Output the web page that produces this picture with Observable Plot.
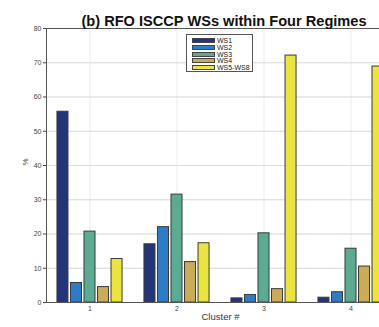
<!DOCTYPE html>
<html>
<head>
<meta charset="utf-8">
<script src="https://cdn.jsdelivr.net/npm/d3@7"></script>
<script src="https://cdn.jsdelivr.net/npm/@observablehq/plot@0.6"></script>
<style>
  html, body { margin: 0; padding: 0; background: #fff; overflow: hidden; }
  #wrap { position: relative; width: 379px; height: 327px; overflow: hidden; }
  #wrap svg { max-width: none !important; }
  #legend { position: absolute; left: 186px; top: 34px; width: 67px; height: 38px; border: 1px solid #555; background: #fff;
    font-family: "Liberation Sans", Arial, sans-serif; font-size: 7px; line-height: 7px; color: #222; padding: 2.5px 0 0 0; box-sizing: border-box; }
  #legend .row { display: flex; align-items: center; height: 6.7px; }
  #legend .sw { display: inline-block; width: 23px; height: 5px; margin-left: 5px; margin-right: 2px; border: 1px solid #444; box-sizing: border-box; }
</style>
</head>
<body>
<div id="wrap"></div>
<script>
const clusters = [1, 2, 3, 4];
const series = ["WS1", "WS2", "WS3", "WS4", "WS5-WS8"];
const ws1 = [55.7, 17.0, 1.2, 1.4];
const ws2 = [5.7, 22.0, 2.2, 3.0];
const ws3 = [20.7, 31.5, 20.2, 15.7];
const ws4 = [4.5, 11.8, 3.9, 10.5];
const ws58 = [12.7, 17.3, 72.1, 68.9];
const colors = ["#243479", "#2e7cc8", "#5bab93", "#caab58", "#ebe33f"];
const yTicks = [0, 10, 20, 30, 40, 50, 60, 70, 80];
const title = "(b) RFO ISCCP WSs within Four Regimes";

const values = [ws1, ws2, ws3, ws4, ws58];
const data = [];
clusters.forEach((c, i) => series.forEach((s, j) => data.push({cluster: c, series: s, value: values[j][i]})));

const chart = Plot.plot({
  width: 394,
  height: 327,
  marginLeft: 46,
  marginRight: 0,
  marginTop: 28,
  marginBottom: 25,
  style: {fontFamily: "'Liberation Sans', Arial, sans-serif", fontSize: "7px", background: "#fff", color: "#444", maxWidth: "none"},
  fx: {domain: clusters, padding: 0, label: null, grid: true, tickSize: 0, tickPadding: 4},
  x: {domain: series, paddingInner: 0.185, paddingOuter: 0.81, round: false, axis: null},
  y: {domain: [0, 80], ticks: yTicks, grid: true, label: null, tickSize: 3, tickPadding: 2},
  color: {domain: series, range: colors},
  marks: [
    Plot.gridY(yTicks, {stroke: "#ddd", strokeOpacity: 1}),
    Plot.barY(data, {fx: "cluster", x: "series", y: "value", fill: "series", stroke: "#3a3a3a", strokeWidth: 1}),
    Plot.frame({facet: "super", stroke: "#555"}),
    Plot.text([title], {facet: "super", frameAnchor: "top", dy: -13, dx: 3.5, fontSize: 14.6, fontWeight: "bold", fill: "#111"}),
    Plot.text(["Cluster #"], {facet: "super", frameAnchor: "bottom", dy: 17, fontSize: 9.5, fill: "#333"}),
    Plot.text(["%"], {facet: "super", frameAnchor: "left", dx: -21, rotate: -90, fontSize: 8, fill: "#444"})
  ]
});
const wrap = document.getElementById("wrap");
wrap.appendChild(chart);

const cs = chart.scale("color");
const lg = document.createElement("div");
lg.id = "legend";
cs.domain.forEach((d, i) => {
  const row = document.createElement("div");
  row.className = "row";
  const sw = document.createElement("span");
  sw.className = "sw";
  sw.style.background = cs.range[i];
  const t = document.createElement("span");
  t.textContent = d;
  row.appendChild(sw); row.appendChild(t);
  lg.appendChild(row);
});
wrap.appendChild(lg);
</script>
</body>
</html>
